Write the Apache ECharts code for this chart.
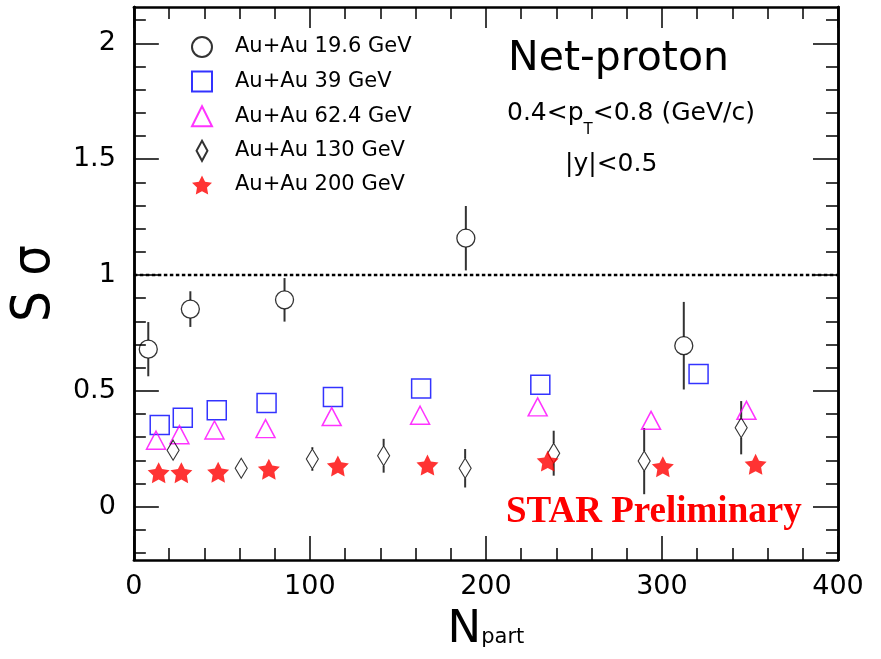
<!DOCTYPE html>
<html>
<head>
<meta charset="utf-8">
<script src="https://cdn.jsdelivr.net/npm/echarts@6/dist/echarts.min.js"></script>
<style>
    html, body { margin: 0; padding: 0; background: #fff; }
    #main { width: 881px; height: 659px; }
</style>
</head>
<body>
<div id="main"></div>
<script>
    // values: N_part, S*sigma, stat. error
    var npart196 = [8.2, 32.1, 85.6, 188.6, 312.4]
    var ssig196 = [0.680, 0.853, 0.893, 1.159, 0.695]
    var err196 = [0.117, 0.077, 0.094, 0.139, 0.189]

    var npart39 = [14.7, 27.8, 47.1, 75.4, 113.1, 163.2, 230.9, 320.8]
    var ssig39 = [0.353, 0.384, 0.416, 0.448, 0.474, 0.510, 0.526, 0.573]

    var npart624 = [12.6, 25.9, 45.8, 74.8, 112.4, 162.6, 229.4, 293.8, 348.0]
    var ssig624 = [0.287, 0.311, 0.331, 0.337, 0.389, 0.395, 0.431, 0.373, 0.416]

    var npart130 = [22.3, 61.0, 101.4, 141.9, 188.2, 238.5, 289.9, 345.0]
    var ssig130 = [0.244, 0.166, 0.206, 0.220, 0.166, 0.231, 0.197, 0.341]
    var err130 = [0.03, 0.03, 0.051, 0.073, 0.083, 0.097, 0.143, 0.115]

    var npart200 = [14.1, 27.0, 47.9, 76.7, 115.9, 166.8, 235.1, 300.5, 353.2]
    var ssig200 = [0.147, 0.147, 0.149, 0.162, 0.176, 0.180, 0.197, 0.173, 0.183]

    var seriesNames = ['Au+Au 19.6 GeV', 'Au+Au 39 GeV', 'Au+Au 62.4 GeV', 'Au+Au 130 GeV', 'Au+Au 200 GeV']
    var yMajorTicks = [0, 0.5, 1, 1.5, 2]
    var yMinorTicks = [-0.2, -0.1, 0.1, 0.2, 0.3, 0.4, 0.6, 0.7, 0.8, 0.9, 1.1, 1.2, 1.3, 1.4, 1.6, 1.7, 1.8, 1.9, 2.1]
    var unityLine = [[0, 1], [400, 1]]

    var FONT = 'DejaVu Sans'
    // fat five-point star, like the ROOT full star marker
    var starPath = 'path://M50,0 L64.7,29.8 L97.55,34.55 L73.8,57.7 L79.39,90.45 L50,75 L20.61,90.45 L26.2,57.7 L2.45,34.55 L35.3,29.8 Z'
    var diamondPath = 'path://M6,0 L12,11 L6,22 L0,11 Z'

    function zip(xs, ys, es) {
        var out = []
        for (var i = 0; i < xs.length; i++) {
            out.push(es ? [xs[i], ys[i], es[i]] : [xs[i], ys[i]])
        }
        return out
    }

    // vertical error bar that stops at the marker edge
    function errorBar(halfPx) {
        return function (params, api) {
            var x = api.value(0), y = api.value(1), e = api.value(2)
            var c = api.coord([x, y])
            var hi = api.coord([x, y + e])
            var lo = api.coord([x, y - e])
            var st = { stroke: '#333', lineWidth: 2 }
            var kids = []
            if (c[1] - halfPx > hi[1]) {
                kids.push({ type: 'line', shape: { x1: c[0], y1: hi[1], x2: c[0], y2: c[1] - halfPx }, style: st })
            }
            if (lo[1] > c[1] + halfPx) {
                kids.push({ type: 'line', shape: { x1: c[0], y1: c[1] + halfPx, x2: c[0], y2: lo[1] }, style: st })
            }
            return { type: 'group', children: kids }
        }
    }

    var axisLineStyle = { show: true, onZero: false, lineStyle: { color: '#000', width: 2.5 } }
    var tickLine = { color: '#000', width: 1.5 }

    function xAxisOf(pos, majorLen, minorLen, withLabel) {
        return {
            type: 'value',
            position: pos,
            min: 0,
            max: 400,
            interval: 100,
            axisLine: axisLineStyle,
            axisTick: { inside: true, length: majorLen, lineStyle: tickLine },
            minorTick: { show: true, splitNumber: 5, length: minorLen, lineStyle: tickLine },
            splitLine: { show: false },
            minorSplitLine: { show: false },
            axisLabel: { show: withLabel, fontFamily: FONT, fontSize: 27, color: '#000', margin: 13 }
        }
    }

    function yAxisOf(pos, ticks, len, withLabel) {
        return {
            type: 'value',
            position: pos,
            min: -0.23,
            max: 2.157,
            axisLine: axisLineStyle,
            axisTick: { inside: true, length: len, lineStyle: tickLine, customValues: ticks },
            splitLine: { show: false },
            axisLabel: {
                show: withLabel, customValues: ticks,
                fontFamily: FONT, fontSize: 27, color: '#000', margin: 18, padding: [6, 0, 0, 0]
            }
        }
    }

    var xBottom = xAxisOf('bottom', 24, 12, true)
    xBottom.name = 'N{s|part}'
    xBottom.nameLocation = 'middle'
    xBottom.nameGap = 48
    xBottom.nameTextStyle = {
        fontFamily: FONT, fontSize: 45, color: '#000',
        rich: { s: { fontFamily: FONT, fontSize: 21, color: '#000', padding: [14, 0, 0, 0] } }
    }

    var yLeft = yAxisOf('left', yMajorTicks, 25, true)
    yLeft.name = 'S σ'
    yLeft.nameLocation = 'middle'
    yLeft.nameGap = 64
    yLeft.nameTextStyle = { fontFamily: "'Liberation Sans Narrow', 'DejaVu Sans Condensed', sans-serif", fontSize: 54, color: '#000' }

    var option = {
        animation: false,
        backgroundColor: '#fff',
        grid: { left: 133, right: 43, top: 7, bottom: 99 },
        xAxis: [xBottom, xAxisOf('top', 21, 12, false)],
        yAxis: [
            yLeft,
            yAxisOf('left', yMinorTicks, 12, false),
            yAxisOf('right', yMajorTicks, 25, false),
            yAxisOf('right', yMinorTicks, 12, false)
        ],
        legend: {
            orient: 'vertical',
            left: 186,
            top: 31,
            itemWidth: 20,
            itemHeight: 20,
            itemGap: 12.6,
            selectedMode: false,
            symbolKeepAspect: true,
            data: seriesNames,
            textStyle: { fontFamily: FONT, fontSize: 21, color: '#000', lineHeight: 20, padding: [0, 0, 0, 18] }
        },
        graphic: [
            { type: 'text', style: { x: 508, y: 59, text: 'Net-proton', fontFamily: FONT, fontSize: 41, fill: '#000', verticalAlign: 'middle' } },
            {
                type: 'text',
                style: {
                    x: 507, y: 113, verticalAlign: 'middle',
                    text: '0.4<p{s|T}<0.8 (GeV/c)',
                    fontFamily: FONT, fontSize: 25, fill: '#000',
                    rich: { s: { fontFamily: FONT, fontSize: 15, fill: '#000', padding: [35, 0, 0, 0] } }
                }
            },
            { type: 'text', style: { x: 565, y: 164, text: '|y|<0.5', fontFamily: FONT, fontSize: 25, fill: '#000', verticalAlign: 'middle' } },
            { type: 'text', style: { x: 506, y: 512, text: 'STAR Preliminary', fontFamily: 'Liberation Serif', fontWeight: 'bold', fontSize: 37, fill: '#ff0000', verticalAlign: 'middle' } }
        ],
        series: [
            {
                name: 'unity', type: 'line', data: unityLine, symbol: 'none', silent: true,
                lineStyle: { color: '#000', width: 2.5, type: [3.5, 2.5] }
            },
            { name: 'err196', type: 'custom', renderItem: errorBar(9), data: zip(npart196, ssig196, err196), encode: { x: 0, y: 1 } },
            { name: 'err130', type: 'custom', renderItem: errorBar(10), data: zip(npart130, ssig130, err130), encode: { x: 0, y: 1 } },
            {
                name: seriesNames[0], type: 'scatter', data: zip(npart196, ssig196),
                symbol: 'circle', symbolSize: 18,
                itemStyle: { color: 'rgba(0,0,0,0)', borderColor: '#000', borderWidth: 1.3 }
            },
            {
                name: seriesNames[1], type: 'scatter', data: zip(npart39, ssig39),
                symbol: 'rect', symbolSize: 19,
                itemStyle: { color: 'rgba(0,0,0,0)', borderColor: '#0000ff', borderWidth: 1.5 }
            },
            {
                name: seriesNames[2], type: 'scatter', data: zip(npart624, ssig624),
                symbol: 'triangle', symbolSize: [19, 18],
                itemStyle: { color: 'rgba(0,0,0,0)', borderColor: '#ff00ff', borderWidth: 1.5 }
            },
            {
                name: seriesNames[3], type: 'scatter', data: zip(npart130, ssig130),
                symbol: diamondPath, symbolSize: [12, 20],
                itemStyle: { color: 'rgba(0,0,0,0)', borderColor: '#000', borderWidth: 1.2 }
            },
            {
                name: seriesNames[4], type: 'scatter', data: zip(npart200, ssig200),
                symbol: starPath, symbolSize: [22, 21],
                itemStyle: { color: '#ff0000' }
            }
        ]
    }

    var chart = echarts.init(document.getElementById('main'), null, { renderer: 'canvas' })
    chart.setOption(option)
</script>
</body>
</html>
